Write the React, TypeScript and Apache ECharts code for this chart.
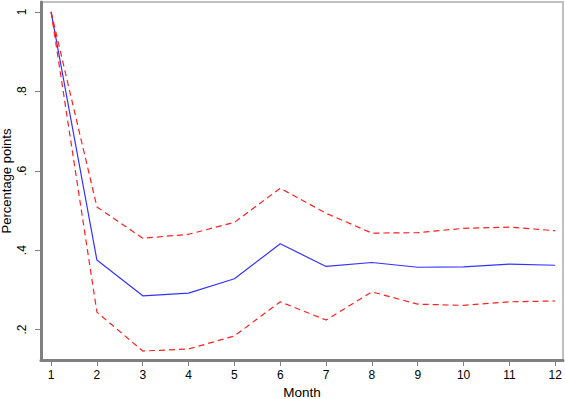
import React, { useEffect, useRef } from "react";
import * as echarts from "echarts";

const months = [1, 2, 3, 4, 5, 6, 7, 8, 9, 10, 11, 12];
const estimate = [1.0, 0.375, 0.285, 0.292, 0.328, 0.416, 0.359, 0.369, 0.357, 0.358, 0.365, 0.362];
const upperCI = [1.0, 0.509, 0.43, 0.44, 0.47, 0.556, 0.493, 0.443, 0.444, 0.455, 0.458, 0.449];
const lowerCI = [1.0, 0.244, 0.146, 0.151, 0.184, 0.27, 0.224, 0.295, 0.264, 0.261, 0.27, 0.272];
const yTicks = [0.2, 0.4, 0.6, 0.8, 1];

const fmtY = (v: number) => (Math.abs(v - 1) < 1e-9 ? "1" : "." + Math.round(v * 10));

export default function App() {
  const ref = useRef<HTMLDivElement>(null);
  useEffect(() => {
    if (!ref.current) return;
    const chart = echarts.init(ref.current, undefined, { renderer: "svg" });
    const pair = (arr: number[]) => months.map((m, i) => [m, arr[i]]);
    chart.setOption({
      animation: false,
      backgroundColor: "#fff",
      grid: {
        left: 41,
        top: 2,
        right: 2,
        bottom: 39,
        outerBoundsMode: "none",
        containLabel: false,
        show: true,
        borderColor: "#c0c0c0",
        borderWidth: 2,
      },
      xAxis: {
        type: "value",
        min: 0.78,
        max: 12.17,
        name: "Month",
        nameLocation: "middle",
        nameGap: 25,
        nameMoveOverlap: false,
        nameTextStyle: { fontFamily: "Liberation Sans", fontSize: 13.5, color: "#000" },
        axisLine: { show: true, lineStyle: { color: "#808080", width: 3 } },
        axisTick: { show: true, customValues: months, length: 6, lineStyle: { color: "#808080" } },
        axisLabel: {
          customValues: months,
          fontFamily: "Liberation Sans",
          fontSize: 12,
          color: "#000",
          margin: 9,
        },
        splitLine: { show: false },
      },
      yAxis: {
        type: "value",
        min: 0.1234,
        max: 1.025,
        name: "Percentage points",
        nameLocation: "middle",
        nameGap: 28,
        nameMoveOverlap: false,
        nameTextStyle: { fontFamily: "Liberation Sans", fontSize: 13, color: "#000" },
        axisLine: { show: true, lineStyle: { color: "#808080", width: 3 } },
        axisTick: { show: true, customValues: yTicks, length: 6, lineStyle: { color: "#808080" } },
        axisLabel: {
          customValues: yTicks,
          formatter: fmtY,
          rotate: 90,
          fontFamily: "Liberation Sans",
          fontSize: 12,
          color: "#000",
          margin: 13,
        },
        splitLine: { show: false },
      },
      series: [
        {
          type: "line",
          data: pair(estimate),
          symbol: "none",
          lineStyle: { color: "#3333ff", width: 1.2 },
        },
        {
          type: "line",
          data: pair(upperCI),
          symbol: "none",
          lineStyle: { color: "#ff2020", width: 1.2, type: [6, 4] },
        },
        {
          type: "line",
          data: pair(lowerCI),
          symbol: "none",
          lineStyle: { color: "#ff2020", width: 1.2, type: [6, 4] },
        },
      ],
    });
    return () => chart.dispose();
  }, []);
  return <div ref={ref} style={{ width: 565, height: 399, position: "absolute", left: 0, top: 0 }} />;
}
